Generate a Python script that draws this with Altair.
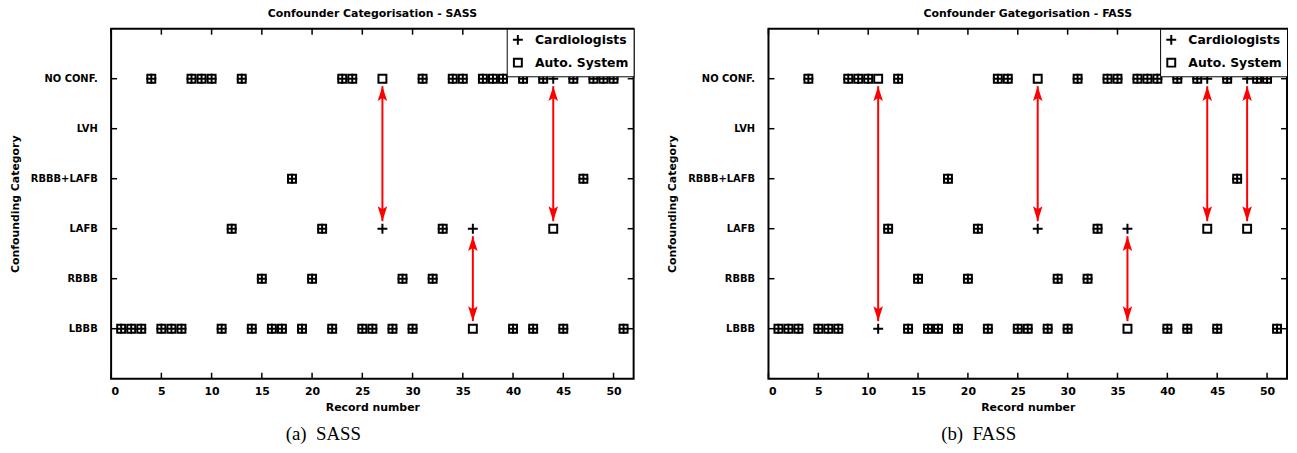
import altair as alt
import pandas as pd

categories = ["LBBB", "RBBB", "LAFB", "RBBB+LAFB", "LVH", "NO CONF."]
records = list(range(1, 52))
x_ticks = [0, 5, 10, 15, 20, 25, 30, 35, 40, 45, 50]
series_names = ["Cardiologists", "Auto. System"]

sass_cardio = [
    "LBBB", "LBBB", "LBBB", "NO CONF.", "LBBB", "LBBB", "LBBB", "NO CONF.", "NO CONF.", "NO CONF.",
    "LBBB", "LAFB", "NO CONF.", "LBBB", "RBBB", "LBBB", "LBBB", "RBBB+LAFB", "LBBB", "RBBB",
    "LAFB", "LBBB", "NO CONF.", "NO CONF.", "LBBB", "LBBB", "LAFB", "LBBB", "RBBB", "LBBB",
    "NO CONF.", "RBBB", "LAFB", "NO CONF.", "NO CONF.", "LAFB", "NO CONF.", "NO CONF.", "NO CONF.", "LBBB",
    "NO CONF.", "LBBB", "NO CONF.", "NO CONF.", "LBBB", "NO CONF.", "RBBB+LAFB", "NO CONF.", "NO CONF.", "NO CONF.",
    "LBBB"]
sass_auto = [
    "LBBB", "LBBB", "LBBB", "NO CONF.", "LBBB", "LBBB", "LBBB", "NO CONF.", "NO CONF.", "NO CONF.",
    "LBBB", "LAFB", "NO CONF.", "LBBB", "RBBB", "LBBB", "LBBB", "RBBB+LAFB", "LBBB", "RBBB",
    "LAFB", "LBBB", "NO CONF.", "NO CONF.", "LBBB", "LBBB", "NO CONF.", "LBBB", "RBBB", "LBBB",
    "NO CONF.", "RBBB", "LAFB", "NO CONF.", "NO CONF.", "LBBB", "NO CONF.", "NO CONF.", "NO CONF.", "LBBB",
    "NO CONF.", "LBBB", "NO CONF.", "LAFB", "LBBB", "NO CONF.", "RBBB+LAFB", "NO CONF.", "NO CONF.", "NO CONF.",
    "LBBB"]
fass_cardio = [
    "LBBB", "LBBB", "LBBB", "NO CONF.", "LBBB", "LBBB", "LBBB", "NO CONF.", "NO CONF.", "NO CONF.",
    "LBBB", "LAFB", "NO CONF.", "LBBB", "RBBB", "LBBB", "LBBB", "RBBB+LAFB", "LBBB", "RBBB",
    "LAFB", "LBBB", "NO CONF.", "NO CONF.", "LBBB", "LBBB", "LAFB", "LBBB", "RBBB", "LBBB",
    "NO CONF.", "RBBB", "LAFB", "NO CONF.", "NO CONF.", "LAFB", "NO CONF.", "NO CONF.", "NO CONF.", "LBBB",
    "NO CONF.", "LBBB", "NO CONF.", "NO CONF.", "LBBB", "NO CONF.", "RBBB+LAFB", "NO CONF.", "NO CONF.", "NO CONF.",
    "LBBB"]
fass_auto = [
    "LBBB", "LBBB", "LBBB", "NO CONF.", "LBBB", "LBBB", "LBBB", "NO CONF.", "NO CONF.", "NO CONF.",
    "NO CONF.", "LAFB", "NO CONF.", "LBBB", "RBBB", "LBBB", "LBBB", "RBBB+LAFB", "LBBB", "RBBB",
    "LAFB", "LBBB", "NO CONF.", "NO CONF.", "LBBB", "LBBB", "NO CONF.", "LBBB", "RBBB", "LBBB",
    "NO CONF.", "RBBB", "LAFB", "NO CONF.", "NO CONF.", "LBBB", "NO CONF.", "NO CONF.", "NO CONF.", "LBBB",
    "NO CONF.", "LBBB", "NO CONF.", "LAFB", "LBBB", "NO CONF.", "RBBB+LAFB", "LAFB", "NO CONF.", "NO CONF.",
    "LBBB"]

H = 353
FONT = "DejaVu Sans"
PLUS = "M-1,0L1,0M0,-1L0,1"
SQUARE = "M-0.8,-0.8L0.8,-0.8L0.8,0.8L-0.8,0.8Z"
HEAD_UP = "M0,0L-0.8,2.5L0,2.0L0.8,2.5Z"
HEAD_DOWN = "M0,0L-0.8,-2.5L0,-2.0L0.8,-2.5Z"
pos = {c: i + 1 for i, c in enumerate(categories)}
label_expr = "[''," + ",".join("'%s'" % c for c in categories) + "][datum.value]"

xs = alt.Scale(domain=[0, 52], nice=False, zero=False)
ys = alt.Scale(domain=[0, 7], nice=False, zero=False)
x_axis = alt.Axis(values=x_ticks, title="Record number", labelPadding=7, titlePadding=5)
y_axis = alt.Axis(values=[1, 2, 3, 4, 5, 6], labelExpr=label_expr, labelFontSize=10,
                  title="Confounding Category", labelPadding=14, titlePadding=10)


def X(f):
    return alt.X(f, scale=xs, axis=x_axis)


def Y(f):
    return alt.Y(f, scale=ys, axis=y_axis)


def panel(cardio, auto, title, caption, cap_x, width):
    rows = []
    for s, vals in ((series_names[1], auto), (series_names[0], cardio)):
        for r, c in zip(records, vals):
            rows.append({"record": r, "series": s, "pos": pos[c]})
    pts = pd.DataFrame(rows)
    arr = []
    for r, c, a in zip(records, cardio, auto):
        if c != a:
            hi, lo = max(pos[c], pos[a]), min(pos[c], pos[a])
            arr.append({"record": r, "top": hi - 0.15, "bot": lo + 0.15})
    arr = pd.DataFrame(arr)

    points = alt.Chart(pts).mark_point(filled=False, color="black", strokeWidth=2,
                                       size=100, opacity=1).encode(
        x=X("record:Q"), y=Y("pos:Q"),
        shape=alt.Shape("series:N", sort=series_names,
                        scale=alt.Scale(domain=series_names, range=[PLUS, SQUARE]),
                        legend=alt.Legend(title=None, orient="top-right", offset=0)),
    )
    rule = alt.Chart(arr).mark_rule(color="red", strokeWidth=2).encode(
        x=X("record:Q"), y=Y("bot:Q"), y2="top:Q")
    up = alt.Chart(arr).mark_point(shape=HEAD_UP, filled=True, color="red", size=144,
                                   opacity=1).encode(x=X("record:Q"), y=Y("top:Q"))
    down = alt.Chart(arr).mark_point(shape=HEAD_DOWN, filled=True, color="red", size=144,
                                     opacity=1).encode(x=X("record:Q"), y=Y("bot:Q"))

    xt = pd.DataFrame({"t": x_ticks})
    yt = pd.DataFrame({"t": [1, 2, 3, 4, 5, 6]})
    tick_b = alt.Chart(xt).mark_rule(color="black", strokeWidth=1.5).encode(
        x=X("t:Q"), y=alt.value(H), y2=alt.value(H - 6))
    tick_t = alt.Chart(xt).mark_rule(color="black", strokeWidth=1.5).encode(
        x=X("t:Q"), y=alt.value(0), y2=alt.value(6))
    tick_l = alt.Chart(yt).mark_rule(color="black", strokeWidth=1.5).encode(
        y=Y("t:Q"), x=alt.value(0), x2=alt.value(6))
    tick_r = alt.Chart(yt).mark_rule(color="black", strokeWidth=1.5).encode(
        y=Y("t:Q"), x=alt.value(width - 6), x2=alt.value(width))
    cap = alt.Chart(pd.DataFrame({"c": [caption]})).mark_text(
        font="Liberation Serif", fontSize=19, color="black", baseline="middle").encode(
        text="c:N", x=alt.value(cap_x), y=alt.value(H + 56))

    return alt.layer(points, rule, up, down, tick_b, tick_t, tick_l, tick_r, cap).properties(
        width=width, height=H,
        title=alt.Title(title, fontSize=11, fontWeight="bold", font=FONT, offset=9,
                        anchor="middle", frame="group"))


left = panel(sass_cardio, sass_auto, "Confounder Categorisation - SASS",
             "(a)\u00a0\u00a0SASS", 214, 527)
right = panel(fass_cardio, fass_auto, "Confounder Gategorisation - FASS",
              "(b)\u00a0\u00a0FASS", 212, 523)

chart = alt.hconcat(left, right, spacing=30).resolve_scale(
    x="independent", y="independent", shape="independent").resolve_legend(
    shape="independent").properties(
    padding={"left": 0, "top": -3, "right": 0, "bottom": 0}).configure_view(
    stroke="black", strokeWidth=2).configure_axis(
    domain=False, ticks=False, grid=False, labelFont=FONT, titleFont=FONT,
    labelFontSize=11, titleFontSize=11, labelFontWeight="bold", titleFontWeight="bold",
    labelColor="black", titleColor="black").configure_legend(
    labelFont=FONT, labelFontSize=12.5, labelFontWeight="bold", labelColor="black",
    strokeColor="black", fillColor="white", padding=5, rowPadding=5,
    symbolStrokeWidth=2, symbolSize=100, symbolStrokeColor="black", labelOffset=11)

chart.save("out.html", embed_options={"renderer": "svg", "actions": False})
